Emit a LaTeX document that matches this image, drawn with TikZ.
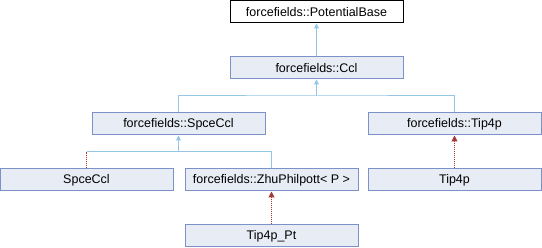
\documentclass[tikz,border=0pt]{standalone}
\usepackage{fontspec}
\setmainfont{Liberation Sans}
\usetikzlibrary{arrows.meta}
\definecolor{boxfill}{HTML}{E8ECF5}
\definecolor{boxdraw}{HTML}{7A92C8}
\definecolor{edgeblue}{HTML}{95C6E6}
\definecolor{edgered}{HTML}{A33A3A}
\tikzset{
  cls/.style={draw=boxdraw, fill=boxfill, line width=1pt, minimum width=173pt, minimum height=22pt, inner sep=0pt, font=\fontsize{12.5}{14}\selectfont},
  rootcls/.style={cls, draw=black, fill=white},
  inh/.style={draw=edgeblue, line width=1pt},
  inharrow/.style={inh, -{Triangle[width=5pt,length=5pt]}},
  tmpl/.style={draw=edgered, line width=1pt, dash pattern=on 1pt off 1pt},
  tmplarrow/.style={tmpl, -{Triangle[width=6pt,length=6pt,fill=edgered]}},
}
\begin{document}
\begin{tikzpicture}[x=1pt, y=-1pt]
\useasboundingbox (0,0) rectangle (542,248);
\node[rootcls] (pb) at (316.5,12) {forcefields::PotentialBase};
\node[cls] (ccl) at (316.5,68) {forcefields::Ccl};
\node[cls] (spce) at (178.5,124) {forcefields::SpceCcl};
\node[cls] (tip4p) at (454.5,124) {forcefields::Tip4p};
\node[cls] (spceleaf) at (86.5,180) {SpceCcl};
\node[cls] (zhu) at (271.5,180) {forcefields::ZhuPhilpott< P >};
\node[cls] (tip4pleaf) at (454.5,180) {Tip4p};
\node[cls] (tip4ppt) at (271.5,236) {Tip4p\_Pt};
\coordinate (j1) at (316.5,96);
\coordinate (j2) at (178.5,152);
\coordinate (j3) at (86.5,152);
\draw[inharrow] (ccl.north) -- (pb.south);
\draw[inh] (spce.north) |- (j1) -| (tip4p.north);
\draw[inharrow] (j1) -- (ccl.south);
\draw[inh] (zhu.north) |- (j2);
\draw[inh] (j3) -- (j2);
\draw[inharrow] (j2) -- (spce.south);
\draw[tmpl] (spceleaf.north) -- (j3);
\draw[tmplarrow] (tip4pleaf.north) -- (tip4p.south);
\draw[tmplarrow] (tip4ppt.north) -- (zhu.south);
\end{tikzpicture}
\end{document}
